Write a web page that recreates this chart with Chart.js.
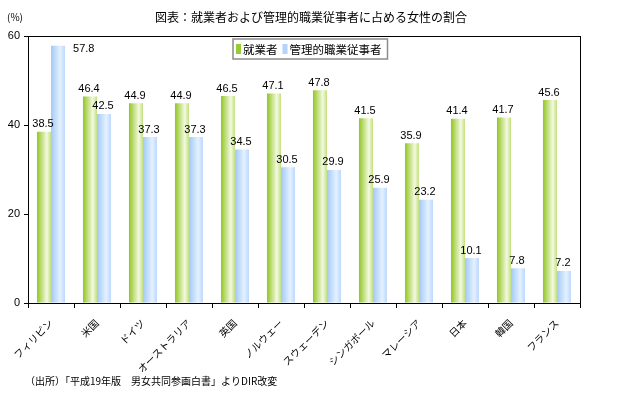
<!DOCTYPE html>
<html>
<head>
<meta charset="utf-8">
<script src="https://cdn.jsdelivr.net/npm/chart.js@4.4.0/dist/chart.umd.min.js"></script>
<style>
  html, body { margin: 0; padding: 0; background: #fff; }
  #wrap { width: 624px; height: 393px; }
</style>
</head>
<body>
<div id="wrap"><canvas id="bars" width="624" height="393"></canvas></div>
<script>
var categories = ['フィリピン', '米国', 'ドイツ', 'オーストラリア', '英国', 'ノルウェー',
    'スウェーデン', 'シンガポール', 'マレーシア', '日本', '韓国', 'フランス'];
var workers = [38.5, 46.4, 44.9, 44.9, 46.5, 47.1, 47.8, 41.5, 35.9, 41.4, 41.7, 45.6];
var managers = [57.8, 42.5, 37.3, 37.3, 34.5, 30.5, 29.9, 25.9, 23.2, 10.1, 7.8, 7.2];
var yTicks = [0, 20, 40, 60];

var jpFont = '"Noto Sans CJK JP", sans-serif';
var numFont = '"Liberation Sans", Arial, sans-serif';

var baseColors = ['#99cc33', '#b3d4fa'];
// horizontal shading for each bar, like the original
var shades = [
    [[0, '#92c623'], [0.7, '#f3f9e0'], [1, '#c3e07e']],
    [[0, '#a2c9f6'], [0.65, '#e4f1ff'], [1, '#bcd9fb']]
];

var decorations = {
    id: 'decorations',
    beforeDatasetsDraw: function(chart) {
        var ctx = chart.ctx;
        chart.data.datasets.forEach(function(ds, di) {
            chart.getDatasetMeta(di).data.forEach(function(el) {
                var g = ctx.createLinearGradient(el.x - el.width / 2, 0, el.x + el.width / 2, 0);
                shades[di].forEach(function(s) { g.addColorStop(s[0], s[1]); });
                el.options = Object.assign({}, el.options, { backgroundColor: g });
            });
        });
    },
    afterDatasetsDraw: function(chart) {
        var ctx = chart.ctx;
        var area = chart.chartArea;
        ctx.save();
        ctx.font = '11px ' + numFont;
        ctx.fillStyle = '#000';
        chart.data.datasets.forEach(function(ds, di) {
            chart.getDatasetMeta(di).data.forEach(function(el, i) {
                var txt = ds.data[i].toFixed(1);
                if (el.y - 16 < area.top) {
                    ctx.textAlign = 'left';
                    ctx.textBaseline = 'middle';
                    ctx.fillText(txt, el.x + el.width / 2 + 8, el.y + 3);
                } else {
                    ctx.textAlign = 'center';
                    ctx.textBaseline = 'bottom';
                    ctx.fillText(txt, el.x - 1, el.y - 2);
                }
            });
        });
        ctx.restore();
    },
    afterDraw: function(chart) {
        var ctx = chart.ctx;
        var area = chart.chartArea;
        ctx.save();
        // box around plot
        ctx.strokeStyle = '#000';
        ctx.lineWidth = 1;
        ctx.strokeRect(area.left + 0.5, area.top + 0.5, area.right - area.left, area.bottom - area.top);

        // legend inside the plot, framed
        ctx.font = '11.5px ' + jpFont;
        ctx.textBaseline = 'middle';
        ctx.textAlign = 'left';
        var names = chart.data.datasets.map(function(ds) { return ds.label; });
        var total = 4;
        names.forEach(function(n) { total += 7 + ctx.measureText(n).width + 5; });
        var lx = 233, ly = 39, lh = 20;
        ctx.fillStyle = '#fff';
        ctx.fillRect(lx, ly, total, lh);
        ctx.strokeStyle = '#8c8c8c';
        ctx.lineWidth = 1.5;
        ctx.strokeRect(lx, ly, total, lh);
        var cx = lx + 3;
        names.forEach(function(n, i) {
            ctx.fillStyle = baseColors[i];
            ctx.fillRect(cx, ly + 5, 5, 10);
            ctx.fillStyle = '#000';
            ctx.fillText(n, cx + 7, ly + lh / 2 + 0.5);
            cx += 7 + ctx.measureText(n).width + 5;
        });

        ctx.fillStyle = '#000';
        ctx.font = '12px ' + jpFont;
        ctx.textAlign = 'center';
        ctx.fillText('図表：就業者および管理的職業従事者に占める女性の割合', 311, 17);
        ctx.textAlign = 'left';
        ctx.font = '10px ' + jpFont;
        ctx.fillText('(%)', 7, 17);
        ctx.fillText('（出所）「平成19年版　男女共同参画白書」よりDIR改変', 25, 381);
        ctx.restore();
    }
};

window.onload = function() {
    var ctx = document.getElementById('bars').getContext('2d');
    var chart = new Chart(ctx, {
        type: 'bar',
        data: {
            labels: categories,
            datasets: [{
                label: '就業者',
                data: workers,
                backgroundColor: function() { return baseColors[0]; },
                categoryPercentage: 0.61,
                barPercentage: 1.0
            }, {
                label: '管理的職業従事者',
                data: managers,
                backgroundColor: function() { return baseColors[1]; },
                categoryPercentage: 0.61,
                barPercentage: 1.0
            }]
        },
        options: {
            responsive: false,
            animation: false,
            layout: { padding: { top: 36, right: 44, left: 0, bottom: 0 } },
            plugins: {
                legend: { display: false },
                tooltip: { enabled: false }
            },
            scales: {
                x: {
                    grid: { drawOnChartArea: false, tickLength: 5, color: '#000' },
                    border: { color: '#000' },
                    ticks: {
                        minRotation: 45,
                        maxRotation: 45,
                        padding: 9,
                        color: '#000',
                        font: { family: jpFont, size: 10 }
                    },
                    afterFit: function(scale) { scale.height = 90; }
                },
                y: {
                    min: 0,
                    max: 60,
                    afterBuildTicks: function(scale) {
                        scale.ticks = yTicks.map(function(v) { return { value: v }; });
                    },
                    grid: { drawOnChartArea: false, tickLength: 4, color: '#000' },
                    border: { color: '#000' },
                    ticks: {
                        padding: 4,
                        color: '#000',
                        font: { family: numFont, size: 11 }
                    },
                    afterFit: function(scale) { scale.width = 28; }
                }
            }
        },
        plugins: [decorations]
    });
};
</script>
</body>
</html>
